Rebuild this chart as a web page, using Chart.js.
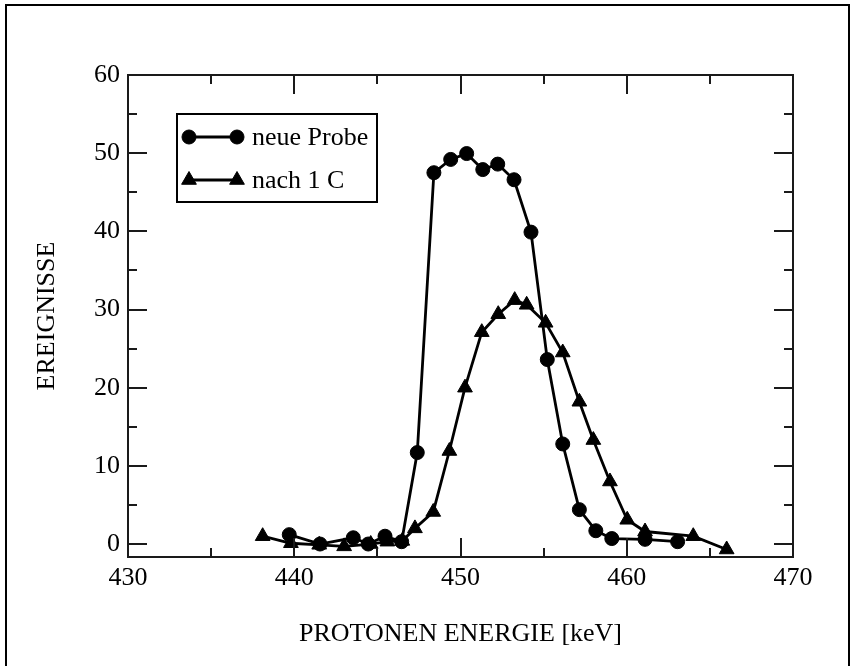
<!DOCTYPE html>
<html>
<head>
<meta charset="utf-8">
<script src="https://cdn.jsdelivr.net/npm/chart.js@4.4.1/dist/chart.umd.min.js"></script>
<style>
  html, body { margin: 0; padding: 0; background: #fff; }
  #wrap { position: relative; width: 854px; height: 666px; }
</style>
</head>
<body>
<div id="wrap"><canvas id="spektrum" width="854" height="666"></canvas></div>
<script>
// neue Probe (circles)
var neueE = [439.7, 441.55, 443.55, 444.45, 445.46, 446.46, 447.4, 448.4, 449.41, 450.37,
             451.34, 452.24, 453.22, 454.24, 455.22, 456.15, 457.15, 458.14, 459.1, 461.1, 463.06];
var neueN = [1.2, 0.0, 0.8, 0.0, 1.0, 0.3, 11.7, 47.5, 49.2, 49.95,
             47.9, 48.6, 46.6, 39.9, 23.6, 12.8, 4.4, 1.7, 0.7, 0.6, 0.3];

// nach 1 C (triangles)
var nachE = [438.1, 439.8, 441.5, 443.0, 444.6, 445.6, 446.5, 447.26, 448.36, 449.33,
             450.27, 451.28, 452.27, 453.26, 453.98, 455.12, 456.15, 457.15, 457.99, 458.99,
             460.03, 461.1, 464.0, 466.01];
var nachN = [1.0, 0.1, -0.1, -0.3, 0.0, 0.3, 0.4, 2.0, 4.1, 11.9,
             20.0, 27.1, 29.4, 31.2, 30.6, 28.3, 24.5, 18.2, 13.3, 8.0,
             3.1, 1.6, 1.0, -0.7];

var xTicks = [430, 440, 450, 460, 470];
var yTicks = [0, 10, 20, 30, 40, 50, 60];
var xMinor = 5, yMinor = 5;

var SERIF = "'Liberation Serif', 'DejaVu Serif', serif";

function pts(xs, ys) {
  return xs.map(function (x, i) { return { x: x, y: ys[i] }; });
}

// frame, inward ticks and the boxed legend
var rahmen = {
  id: 'rahmen',
  beforeDraw: function (chart) {
    var ctx = chart.ctx;
    ctx.save();
    ctx.fillStyle = '#fff';
    ctx.fillRect(0, 0, chart.width, chart.height);
    ctx.strokeStyle = '#000';
    ctx.lineWidth = 2;
    ctx.strokeRect(6, 5, 843, 700);
    ctx.restore();
  },
  afterDatasetsDraw: function (chart) {
    var ctx = chart.ctx, a = chart.chartArea;
    var xs = chart.scales.x, ys = chart.scales.y;
    ctx.save();
    ctx.strokeStyle = '#1a1a1a';
    ctx.lineWidth = 2;
    ctx.strokeRect(a.left, a.top, a.right - a.left, a.bottom - a.top);
    ctx.beginPath();
    for (var v = xs.min; v <= xs.max + 1e-6; v += xMinor) {
      var px = Math.round(xs.getPixelForValue(v));
      var len = (v % 10 === 0) ? 19 : 9;
      ctx.moveTo(px, a.bottom); ctx.lineTo(px, a.bottom - len);
      ctx.moveTo(px, a.top); ctx.lineTo(px, a.top + len);
    }
    for (var w = 0; w <= ys.max + 1e-6; w += yMinor) {
      var py = Math.round(ys.getPixelForValue(w));
      var l2 = (w % 10 === 0) ? 19 : 9;
      ctx.moveTo(a.left, py); ctx.lineTo(a.left + l2, py);
      ctx.moveTo(a.right, py); ctx.lineTo(a.right - l2, py);
    }
    ctx.stroke();

    // legend
    var box = { x: 177, y: 114, w: 200, h: 88 };
    ctx.fillStyle = '#fff';
    ctx.fillRect(box.x, box.y, box.w, box.h);
    ctx.strokeStyle = '#000';
    ctx.lineWidth = 2;
    ctx.strokeRect(box.x, box.y, box.w, box.h);
    var rows = [137, 180];
    chart.data.datasets.forEach(function (ds, i) {
      var y = rows[i];
      ctx.strokeStyle = '#000';
      ctx.lineWidth = ds.borderWidth;
      ctx.beginPath();
      ctx.moveTo(189, y); ctx.lineTo(237, y);
      ctx.stroke();
      ctx.fillStyle = '#000';
      ctx.lineWidth = 1;
      [189, 237].forEach(function (mx) {
        Chart.helpers.drawPoint(ctx, { pointStyle: ds.pointStyle, radius: ds.pointRadius, rotation: 0, borderWidth: 1 }, mx, y);
      });
      ctx.font = '26px ' + SERIF;
      ctx.textBaseline = 'middle';
      ctx.textAlign = 'left';
      ctx.fillText(ds.label, 252, y + 1);
    });
    ctx.restore();
  }
};

new Chart(document.getElementById('spektrum').getContext('2d'), {
  type: 'line',
  data: {
    datasets: [
      {
        label: 'neue Probe',
        data: pts(neueE, neueN),
        borderColor: '#000',
        backgroundColor: '#000',
        borderWidth: 2.8,
        pointStyle: 'circle',
        pointRadius: 7,
        pointBorderWidth: 1,
        tension: 0
      },
      {
        label: 'nach 1 C',
        data: pts(nachE, nachN),
        borderColor: '#000',
        backgroundColor: '#000',
        borderWidth: 2.8,
        pointStyle: 'triangle',
        pointRadius: 8.5,
        pointBorderWidth: 1,
        tension: 0
      }
    ]
  },
  options: {
    responsive: false,
    animation: false,
    devicePixelRatio: 1,
    layout: { padding: { left: 0, top: 75, right: 61, bottom: 0 } },
    plugins: { legend: { display: false }, tooltip: { enabled: false } },
    scales: {
      x: {
        type: 'linear',
        min: 430,
        max: 470,
        afterBuildTicks: function (s) { s.ticks = xTicks.map(function (v) { return { value: v }; }); },
        afterFit: function (s) { s.height = 109; },
        grid: { display: false, drawTicks: false },
        border: { display: false },
        ticks: { color: '#000', padding: 6, font: { family: SERIF, size: 26 } },
        title: {
          display: true,
          text: 'PROTONEN ENERGIE [keV]',
          color: '#000',
          font: { family: SERIF, size: 26 },
          padding: { top: 0, bottom: 16 }
        }
      },
      y: {
        type: 'linear',
        min: -1.66,
        max: 60,
        afterBuildTicks: function (s) { s.ticks = yTicks.map(function (v) { return { value: v }; }); },
        afterFit: function (s) { s.width = 128; },
        grid: { display: false, drawTicks: false },
        border: { display: false },
        ticks: { color: '#000', padding: 8, font: { family: SERIF, size: 26 } },
        title: {
          display: true,
          text: 'EREIGNISSE',
          color: '#000',
          font: { family: SERIF, size: 26 },
          padding: { top: 32, bottom: 0 }
        }
      }
    }
  },
  plugins: [rahmen]
});
</script>
</body>
</html>
